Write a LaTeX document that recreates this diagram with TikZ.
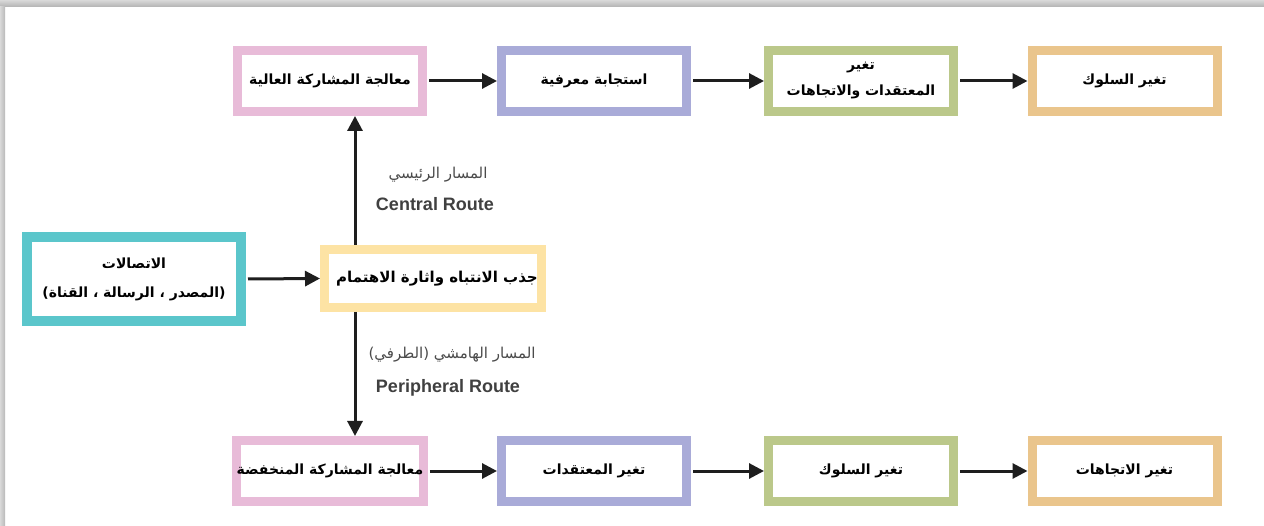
\documentclass[tikz,border=0pt]{standalone}
\usepackage{fontspec}
\TeXXeTstate=1
\newfontfamily\arabicfont[Script=Arabic]{DejaVu Sans}
\newfontfamily\latinfont{Liberation Sans}
\usetikzlibrary{arrows.meta}

\definecolor{pinkc}{HTML}{E8BBD8}
\definecolor{bluec}{HTML}{A9ABD8}
\definecolor{greenc}{HTML}{BBC88A}
\definecolor{orangec}{HTML}{EAC58C}
\definecolor{tealc}{HTML}{5BC6CB}
\definecolor{yellowc}{HTML}{FDE3A4}
\definecolor{inkc}{HTML}{1E1E1E}

\tikzset{
  stagebox/.style={draw=#1, line width=9pt, fill=white,
    minimum width=185pt, minimum height=61pt, inner sep=0pt,
    align=center, font=\arabicfont\bfseries\fontsize{14}{18}\selectfont},
  flow/.style={draw=inkc, line width=3pt,
    -{Triangle[length=15pt,width=15pt]}},
  routeAr/.style={font=\arabicfont\fontsize{15}{18}\selectfont, text=inkc!80},
  routeEn/.style={font=\latinfont\bfseries\fontsize{18}{20}\selectfont, text=inkc!85},
}

\newcommand{\ar}[1]{\beginR #1\endR}

\begin{document}
\begin{tikzpicture}[x=1pt,y=-1pt]
  \useasboundingbox (0,0) rectangle (1264,526);
  % page with soft shadow along the top and left edges
  \fill[white] (0,0) rectangle (1264,526);
  \shade[top color=gray!30, bottom color=gray!60] (0,0) rectangle (1264,7);
  \shade[left color=gray!30, right color=gray!55] (0,7) rectangle (5,526);

  % source and attention
  \node[stagebox=tealc, line width=10pt, minimum width=214pt, minimum height=84pt,
        font=\arabicfont\bfseries\fontsize{14}{29}\selectfont]
    (src) at (134,279) {\ar{الاتصالات}\\ \ar{(المصدر ، الرسالة ، القناة)}};
  \node[stagebox=yellowc, minimum width=217pt, minimum height=58pt,
        font=\arabicfont\bfseries\fontsize{15}{18}\selectfont]
    (att) at (433,278.5) {\hspace*{8pt}\ar{جذب الانتباه واثارة الاهتمام}};

  % central route
  \node[stagebox=pinkc]   (hi)   at (330,81)    {\ar{معالجة المشاركة العالية}};
  \node[stagebox=bluec]   (cog)  at (594,81)    {\ar{استجابة معرفية}};
  \node[stagebox=greenc, font=\arabicfont\bfseries\fontsize{14}{26}\selectfont]
    (bel)  at (861,81) {\ar{تغير}\\ \ar{المعتقدات والاتجاهات}};
  \node[stagebox=orangec] (behT) at (1124.5,81) {\ar{تغير السلوك}};

  % peripheral route
  \node[stagebox=pinkc]   (lo)   at (330,471)    {\ar{معالجة المشاركة المنخفضة}};
  \node[stagebox=bluec]   (belB) at (594,471)    {\ar{تغير المعتقدات}};
  \node[stagebox=greenc]  (behB) at (861,471)    {\ar{تغير السلوك}};
  \node[stagebox=orangec] (attB) at (1124.5,471) {\ar{تغير الاتجاهات}};

  % route labels
  \node[routeAr] (cAr) at (438,175) {\ar{المسار الرئيسي}};
  \node[routeEn] (cEn) at (435,204) {Central Route};
  \node[routeAr] (pAr) at (452,355) {\ar{المسار الهامشي (الطرفي)}};
  \node[routeEn] (pEn) at (448,388) {Peripheral Route};

  % connectors
  \coordinate (vx) at (355,0);
  \draw[flow] ([xshift=2pt]src.east) -- (att.west);
  \draw[flow] (att.north -| vx) -- (hi.south -| vx);
  \draw[flow] (att.south -| vx) -- (lo.north -| vx);
  \draw[flow] ([xshift=2pt]hi.east) -- (cog.west);
  \draw[flow] ([xshift=2pt]cog.east) -- (bel.west);
  \draw[flow] ([xshift=2pt]bel.east) -- (behT.west);
  \draw[flow] ([xshift=2pt]lo.east) -- (belB.west);
  \draw[flow] ([xshift=2pt]belB.east) -- (behB.west);
  \draw[flow] ([xshift=2pt]behB.east) -- (attB.west);
\end{tikzpicture}
\end{document}
